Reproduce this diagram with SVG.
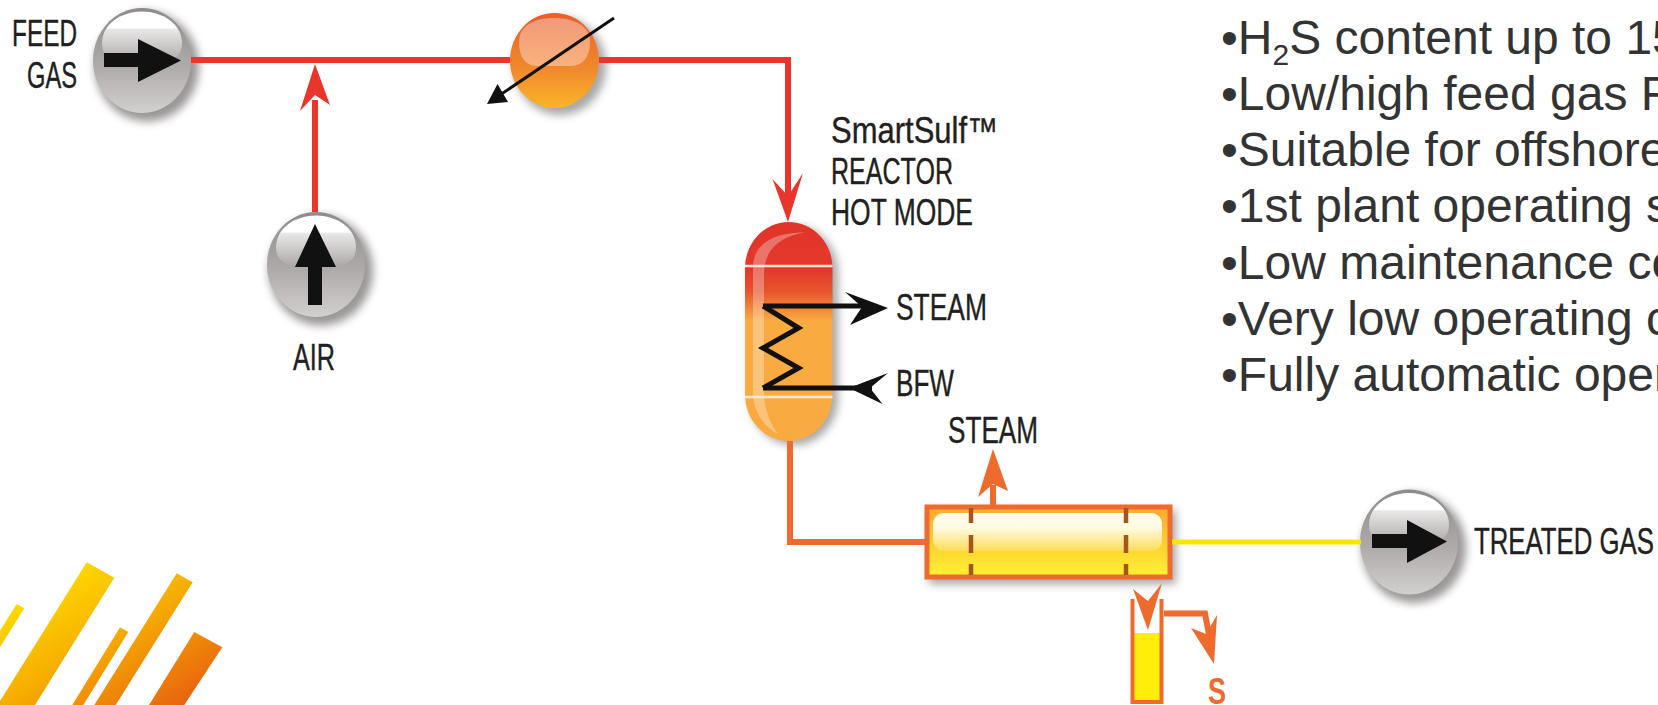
<svg xmlns="http://www.w3.org/2000/svg" width="1658" height="705" viewBox="0 0 1658 705">
<style>
.lbl{font-family:"Liberation Sans",Arial,sans-serif;font-size:36px;fill:#231f20;stroke:#231f20;stroke-width:.4}
.bul{font-family:"Liberation Sans",Arial,sans-serif;font-size:48px;fill:#333333}
.red{fill:none;stroke:#e9352b;stroke-width:6}
.org{fill:none;stroke:#ef6a2d;stroke-width:6}
.yel{fill:none;stroke:#f7e600;stroke-width:5}
.blk{fill:none;stroke:#111111;stroke-width:5;stroke-linejoin:miter}
.redh{fill:#e9352b}.orgh{fill:#ef6a2d}.blkh{fill:#111111}
.wl{stroke:#ffe6d2;stroke-width:2.5;fill:none}
.dash{stroke:#a4561f;stroke-width:4.5;fill:none}
</style>
<defs>
<filter id="sh" x="-30%" y="-30%" width="170%" height="170%"><feGaussianBlur stdDeviation="4"/></filter>
<linearGradient id="ballG" x1="0" y1="0" x2="0" y2="1"><stop offset="0" stop-color="#8f8b8b"/><stop offset=".55" stop-color="#aeaaa9"/><stop offset="1" stop-color="#d2d0cf"/></linearGradient>
<linearGradient id="ballH" x1="0" y1="0" x2="0" y2="1"><stop offset="0" stop-color="#ffffff"/><stop offset=".33" stop-color="#ffffff"/><stop offset=".36" stop-color="#e8e7e7"/><stop offset="1" stop-color="#aeaaa9"/></linearGradient>
<linearGradient id="heatG" x1="0" y1="0" x2="0" y2="1"><stop offset="0" stop-color="#e95f2a"/><stop offset=".6" stop-color="#f08a2c"/><stop offset="1" stop-color="#fab52a"/></linearGradient>
<linearGradient id="heatH" x1="0" y1="0" x2="0" y2="1"><stop offset="0" stop-color="#f2997a"/><stop offset="1" stop-color="#f8b27e"/></linearGradient>
<linearGradient id="reacG" x1="0" y1="222" x2="0" y2="441" gradientUnits="userSpaceOnUse"><stop offset="0" stop-color="#e2342a"/><stop offset=".22" stop-color="#e2392a"/><stop offset=".32" stop-color="#e7562e"/><stop offset=".39" stop-color="#f08436"/><stop offset=".45" stop-color="#f9ab42"/><stop offset="1" stop-color="#f9ab42"/></linearGradient>
<linearGradient id="condG" x1="0" y1="0" x2="0" y2="1"><stop offset="0" stop-color="#f8a835"/><stop offset=".55" stop-color="#fdd22f"/><stop offset="1" stop-color="#fff234"/></linearGradient>
<linearGradient id="condH" x1="0" y1="0" x2="0" y2="1"><stop offset="0" stop-color="#fffdea"/><stop offset=".4" stop-color="#fffbe2"/><stop offset="1" stop-color="#fedc55"/></linearGradient>
<linearGradient id="logoG" gradientUnits="userSpaceOnUse" x1="70" y1="555" x2="170" y2="712"><stop offset="0" stop-color="#ffe000"/><stop offset=".5" stop-color="#f6ab00"/><stop offset="1" stop-color="#e8640f"/></linearGradient>
<g id="ball">
<ellipse cx="5" cy="6" rx="52" ry="55" fill="#6f6b6b" opacity=".7" filter="url(#sh)"/>
<ellipse rx="49" ry="52.500" fill="url(#ballG)"/>
<path d="M-40,-17C-40,-37-20,-49 0,-49C20,-49 40,-37 40,-17C40,-5 31,1 20,1L-20,1C-31,1-40,-5-40,-17Z" fill="url(#ballH)"/>
</g>
</defs>

<g id="logo" fill="url(#logoG)">
<polygon points="86.700,562.300 114.300,577.700 35,705 0,705 0,701"/>
<polygon points="16.700,604 24.300,608.300 0,647.300 0,630.700"/>
<polygon points="120,627.300 128.300,632 83.300,705 72.300,705"/>
<polygon points="176.700,573.300 192.700,582.300 115.700,705 94.300,705"/>
<polygon points="194.300,632 222.300,647.300 184.300,705 149,705"/>
</g>

<g id="feed-gas">
<use href="#ball" x="142" y="60.500"/>
<polygon class="blkh" points="104,53 138,53 138,39 181,60.500 138,82 138,67 104,67"/>
<text class="lbl" x="12" y="46" textLength="65" lengthAdjust="spacingAndGlyphs">FEED</text>
<text class="lbl" x="27" y="88" textLength="50" lengthAdjust="spacingAndGlyphs">GAS</text>
</g>

<g id="air">
<use href="#ball" x="316" y="264.500"/>
<polygon class="blkh" points="315,224 336,267 322,267 322,305 308,305 308,267 295,267"/>
<text class="lbl" x="293" y="370" textLength="42" lengthAdjust="spacingAndGlyphs">AIR</text>
</g>

<g id="heater">
<ellipse cx="560" cy="66" rx="46" ry="49" fill="#6f6b6b" opacity=".6" filter="url(#sh)"/>
<ellipse cx="554.500" cy="60.500" rx="44.500" ry="47.500" fill="url(#heatG)"/>
<path d="M519,42C519,26 534,18 554,18C574,18 590,26 590,42C590,58 582,66 570,66L538,66C526,66 519,58 519,42Z" fill="url(#heatH)"/>
<path d="M614,18L497,97" fill="none" stroke="#111111" stroke-width="3"/>
<polygon class="blkh" points="487,104 497.500,84 508,102"/>
</g>

<g id="reactor">
<rect x="750" y="226" width="88" height="219" rx="44" ry="46" fill="#6f6b6b" opacity=".6" filter="url(#sh)"/>
<rect x="745" y="222" width="87.500" height="219" rx="43.750" ry="46" fill="url(#reacG)"/>
<path d="M753,268C753,245 770,233 806,232C785,236 764,245 764,275L764,392C764,412 772,426 778,434C762,425 753,410 753,392Z" fill="#ffffff" opacity=".3"/>
<path class="wl" d="M745,266H832.500M745,397H832.500"/>
<path class="blk" d="M763,306L798.600,328L763,348L798.600,368L763,388"/>
<text class="lbl" x="831" y="143" textLength="167" lengthAdjust="spacingAndGlyphs">SmartSulf™</text>
<text class="lbl" x="831" y="184" textLength="122" lengthAdjust="spacingAndGlyphs">REACTOR</text>
<text class="lbl" x="831" y="225" textLength="142" lengthAdjust="spacingAndGlyphs">HOT MODE</text>
</g>

<g id="condenser">
<rect x="929" y="510" width="247" height="74" fill="#6f6b6b" opacity=".6" filter="url(#sh)"/>
<rect x="927" y="507" width="243" height="70" fill="url(#condG)" stroke="#ef6a2d" stroke-width="5"/>
<rect x="933" y="513" width="229" height="38" rx="11" fill="url(#condH)"/>
<path class="dash" d="M971,508V523M971,535V553M971,564V575M1126,508V523M1126,535V553M1126,564V575"/>
</g>

<g id="sulfur-pot">
<rect x="1134" y="633" width="26" height="69" fill="#ffee0a"/>
<path d="M1132.500,599V702H1161.500V599" fill="none" stroke="#ef6a2d" stroke-width="4"/>
</g>

<g id="treated-gas">
<use href="#ball" x="1409" y="542"/>
<polygon class="blkh" points="1372,534 1407,534 1407,520 1447,541.500 1407,563 1407,548 1372,548"/>
<text class="lbl" x="1474" y="554" textLength="180" lengthAdjust="spacingAndGlyphs">TREATED GAS</text>
</g>

<g id="connectors">
<path class="red" d="M191,60H510"/>
<path class="red" d="M315,212V100"/>
<polygon class="redh" points="315,64 330,105 315,95 300,111"/>
<path class="red" d="M599,60H788V205" stroke-linejoin="miter"/>
<polygon class="redh" points="788,222 772.500,179 788,196 803,173"/>
<path class="org" d="M790,441V542H926"/>
<path class="org" d="M993,505V485"/>
<polygon class="orgh" points="993,449 1008,491 993,484 978,497"/>
<path class="yel" d="M1172,542H1361"/>
<polygon class="orgh" points="1148,630 1133,589 1148,601 1162,583"/>
<path class="org" d="M1164,613.500H1205L1210,640" stroke-width="5"/>
<polygon class="orgh" points="1214,664 1191,628 1206,634 1217,615"/>
<path class="blk" d="M763,306H864"/>
<polygon class="blkh" points="888,308 845,292 862,307 850,325"/>
<path class="blk" d="M763,388H872"/>
<polygon class="blkh" points="849,388 888,373 870,388 882.500,404"/>
</g>

<g id="labels">
<text class="lbl" x="896" y="320" textLength="91" lengthAdjust="spacingAndGlyphs">STEAM</text>
<text class="lbl" x="896" y="396" textLength="58" lengthAdjust="spacingAndGlyphs">BFW</text>
<text class="lbl" x="948" y="443" textLength="90" lengthAdjust="spacingAndGlyphs">STEAM</text>
<text x="1208" y="704" font-family="Liberation Sans,Arial,sans-serif" font-weight="700" font-size="37" fill="#ef6a2d" textLength="18" lengthAdjust="spacingAndGlyphs">S</text>
</g>

<g id="notes">
<text class="bul" x="1221" y="53.500">•H<tspan font-size="30" dy="11">2</tspan><tspan dy="-11">S content up to 15</tspan></text>
<text class="bul" x="1221" y="109.700">•Low/high feed gas F</text>
<text class="bul" x="1221" y="166">•Suitable for offshore</text>
<text class="bul" x="1221" y="222.200">•1st plant operating s</text>
<text class="bul" x="1221" y="278.500">•Low maintenance co</text>
<text class="bul" x="1221" y="334.700">•Very low operating c</text>
<text class="bul" x="1221" y="391">•Fully automatic oper</text>
</g>
</svg>
